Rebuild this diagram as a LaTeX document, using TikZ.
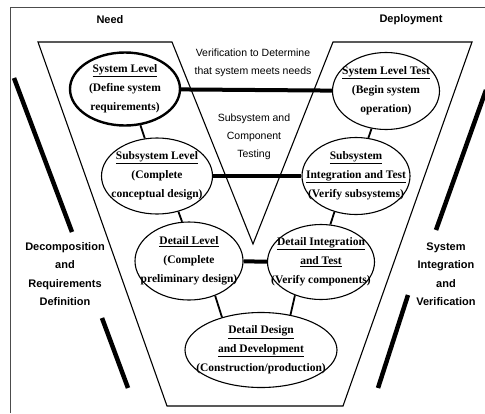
\documentclass[tikz,border=0pt]{standalone}
\usepackage{fontspec}
\setmainfont{Liberation Serif}
\setsansfont{Liberation Sans}
\usetikzlibrary{shapes.geometric}

\begin{document}
\begin{tikzpicture}[x=1pt,y=-1pt,
    phase/.style={ellipse,draw,fill=white,line width=1.1pt,minimum width=108pt,minimum height=76pt,inner sep=0pt},
    phasetext/.style={font=\bfseries\fontsize{11.5}{19}\selectfont,align=center,inner sep=0pt},
    midtext/.style={font=\sffamily\fontsize{10.5}{18}\selectfont,align=center},
    sidetext/.style={font=\sffamily\bfseries\fontsize{11}{18.5}\selectfont,align=center},
    link/.style={line width=1.8pt},
    bar/.style={line width=4pt},
    pole/.style={line width=4.5pt}]
  \def\W{485};
  \def\H{413};
  \useasboundingbox (0,0) rectangle (\W,\H);
  \draw[black!70,line width=0.8pt] (10,\H)--(10,7)--(\W,7);

  \draw[line width=1.1pt] (38,42)--(172,42)--(253,244)--(333,42)--(472,42)--(343,406)--(167,406)--cycle;

  \node[sidetext] (need) at (110,20) {Need};
  \node[sidetext] (deploy) at (411,20) {Deployment};

  \draw[pole] (14,78)--(72,232);
  \draw[pole] (102,318)--(128,388);
  \draw[pole] (486,90)--(436,230);
  \draw[pole] (408,295)--(378,388);
  \node[sidetext] (decomp) at (65,274) {Decomposition\\and\\Requirements\\Definition};
  \node[sidetext] (sysint) at (446,274) {System\\Integration\\and\\Verification};

  \node[midtext] (verif) at (253,63) {Verification to Determine\\that system meets needs};
  \node[midtext] (subtest) at (254,137) {Subsystem and\\Component\\Testing};

  \node[phase,line width=2.4pt,minimum width=110pt,minimum height=73pt] (sysl) at (125,89)
    [label={[phasetext]center:{\underline{System Level}\\(Define system\\requirements)}}] {};
  \node[phase,minimum width=111pt] (subl) at (157,176)
    [label={[phasetext]center:{\underline{Subsystem Level}\\(Complete\\conceptual design)}}] {};
  \node[phase,minimum height=78pt] (detl) at (189,261)
    [label={[phasetext]center:{\underline{Detail Level}\\(Complete\\preliminary design)}}] {};
  \node[phase,minimum width=152pt,minimum height=75pt] (detd) at (261,350)
    [label={[phasetext]center:{\underline{Detail Design}\\\underline{and Development}\\(Construction/production)}}] {};
  \node[phase,minimum width=107pt,minimum height=75pt] (deti) at (321,262)
    [label={[phasetext]center:{\underline{Detail Integration}\\\underline{and Test}\\(Verify components)}}] {};
  \node[phase,minimum width=108pt,minimum height=77pt] (subi) at (356,176)
    [label={[phasetext]center:{\underline{Subsystem}\\\underline{Integration and Test}\\(Verify subsystems)}}] {};
  \node[phase,minimum width=107pt,minimum height=77pt] (syst) at (386,91)
    [label={[phasetext]center:{\underline{System Level Test}\\(Begin system\\operation)}}] {};

  \draw[bar] (sysl)--(syst);
  \draw[bar] (subl)--(subi);
  \draw[bar] (detl)--(deti);
  \draw[link] (sysl.-67)--(subl.108);
  \draw[link] (subl.-59)--(detl.100);
  \draw[link] (detl.-53)--(detd.140);
  \draw[link] (deti.232)--(detd.50);
  \draw[link] (subi.239)--(deti.76);
  \draw[link] (syst.249)--(subi.72);
\end{tikzpicture}
\end{document}
